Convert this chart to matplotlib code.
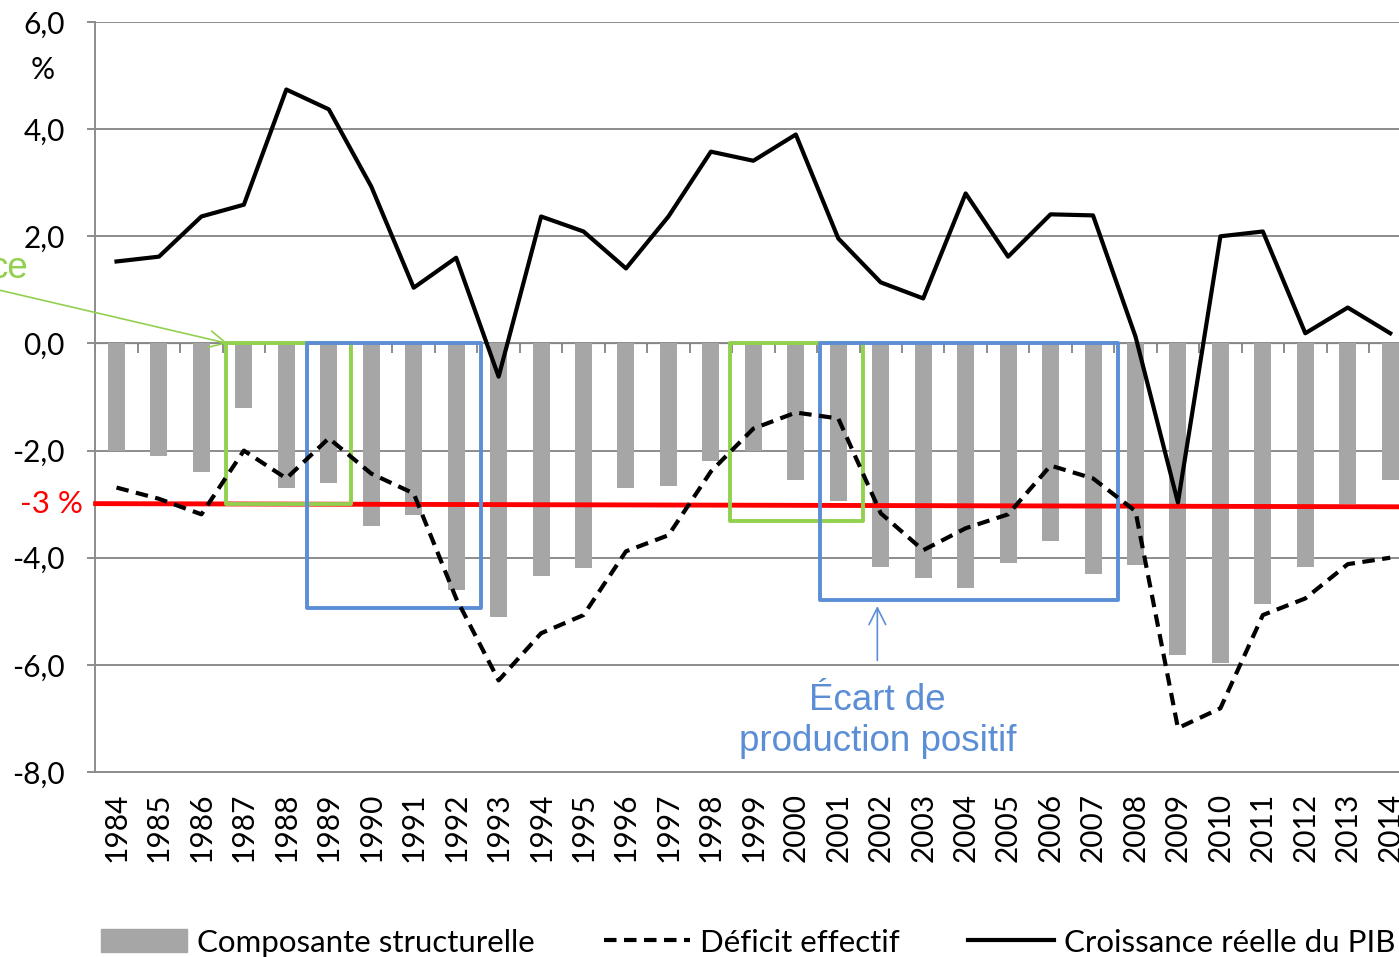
"""
Déficit effectif, composante structurelle et croissance du PIB (1984-2014)
"""

import matplotlib
matplotlib.use('Agg')
import matplotlib.pyplot as plt
from matplotlib.lines import Line2D
from matplotlib.patches import Patch, Rectangle

plt.rcParams['font.family'] = ['Lato', 'DejaVu Sans']

# données
years = [str(y) for y in range(1984, 2015)]
structurel = [-2.0, -2.1, -2.4, -1.2, -2.7, -2.6, -3.4, -3.2, -4.6, -5.1,
              -4.35, -4.2, -2.7, -2.67, -2.2, -2.0, -2.55, -2.95, -4.18, -4.38,
              -4.56, -4.1, -3.69, -4.31, -4.14, -5.82, -5.97, -4.87, -4.18, -2.99,
              -2.54]
deficit = [-2.69, -2.9, -3.19, -2.0, -2.52, -1.77, -2.43, -2.8, -4.76, -6.29,
           -5.41, -5.07, -3.88, -3.58, -2.39, -1.59, -1.29, -1.4, -3.17, -3.86,
           -3.45, -3.19, -2.28, -2.52, -3.13, -7.18, -6.81, -5.07, -4.76, -4.12,
           -4.0]
croissance = [1.53, 1.62, 2.37, 2.59, 4.74, 4.37, 2.93, 1.04, 1.6, -0.62,
              2.37, 2.09, 1.4, 2.37, 3.58, 3.41, 3.9, 1.96, 1.14, 0.84,
              2.8, 1.62, 2.41, 2.39, 0.13, -2.97, 2.0, 2.09, 0.19, 0.67,
              0.19]
y_ticks = [-8, -6, -4, -2, 0, 2, 4, 6]

# zones surlignées : (x début, x fin, y bas) en positions de catégories
green_boxes = [(2.57, 5.52, -3.0), (14.46, 17.59, -3.32)]
blue_boxes = [(4.48, 8.58, -4.94), (16.56, 23.58, -4.79)]

GRID = '#8c8c8c'
GREEN = '#92D050'
BLUE = '#5B8ED5'

fig = plt.figure(figsize=(13.99, 9.57), dpi=100)
ax = fig.add_axes([0.0681, 0.1933, 0.9408, 0.7837])
x = list(range(len(years)))

ax.bar(x, structurel, width=0.4, color='#A6A6A6', zorder=2)
ax.plot([-0.55, len(years) - 0.5], [-2.99, -3.05], color='red', lw=3.5,
        zorder=3, clip_on=False, solid_capstyle='butt')
ax.plot(x, deficit, color='black', lw=3, linestyle=(0, (3, 1.8)), zorder=5)
ax.plot(x, croissance, color='black', lw=3, zorder=5)

for x0, x1, yb in green_boxes:
    ax.add_patch(Rectangle((x0, yb), x1 - x0, -yb, fill=False, ec=GREEN,
                           lw=2.8, zorder=4, joinstyle='round'))
for x0, x1, yb in blue_boxes:
    ax.add_patch(Rectangle((x0, yb), x1 - x0, -yb, fill=False, ec=BLUE,
                           lw=2.8, zorder=4, joinstyle='round'))

ax.set_xlim(-0.5, len(years) - 0.5)
ax.set_ylim(-8, 6)
ax.set_yticks(y_ticks)
ax.set_yticklabels([f'{v:.1f}'.replace('.', ',') for v in y_ticks], fontsize=21.5)
ax.set_xticks(x)
ax.set_xticklabels(years, rotation=90, fontsize=21.5)
ax.tick_params(axis='x', length=0, pad=15)
ax.tick_params(axis='y', length=6, width=1.4, color=GRID, pad=16)
ax.grid(axis='y', color=GRID, lw=1.4, zorder=0)
ax.set_axisbelow(True)
for s in ['top', 'right']:
    ax.spines[s].set_visible(False)
for s in ['left', 'bottom']:
    ax.spines[s].set_color(GRID)
    ax.spines[s].set_linewidth(1.4)

# axe des abscisses à 0 avec graduations entre catégories
sec = ax.secondary_xaxis(8 / 14)
sec.set_xticks([i - 0.5 for i in range(len(years) + 1)])
sec.set_xticklabels([])
sec.tick_params(length=7, width=1.4, color=GRID, direction='in')
sec.spines['bottom'].set_color(GRID)
sec.spines['bottom'].set_linewidth(1.4)

ax.text(-1.73, 5.1, '%', fontsize=21.5, ha='center', va='center')
ax.text(-0.8, -3.0, '-3 %', fontsize=22.5, color='red', ha='right',
        va='center', clip_on=False)

# annotations
ax.annotate('', xy=(17.92, -4.85), xytext=(17.92, -5.97),
            arrowprops=dict(arrowstyle='->', color=BLUE, lw=1.2,
                            mutation_scale=30))
ax.text(17.92, -7.05, 'Écart de\nproduction positif', fontsize=26.5,
        family='Liberation Sans', color=BLUE, ha='center', va='center',
        linespacing=1.22)
ax.annotate('', xy=(2.62, 0.0), xytext=(-3.0, 1.04),
            arrowprops=dict(arrowstyle='->', color=GREEN, lw=1.2,
                            mutation_scale=30, shrinkA=0, shrinkB=0),
            annotation_clip=False)
fig.text(28 / 1399, 1 - 268 / 957, 'ce', fontsize=26.5, family='Liberation Sans',
         color=GREEN, ha='right', va='center')

handles = [Patch(color='#A6A6A6'),
           Line2D([], [], color='black', lw=3, linestyle=(0, (3, 1.8))),
           Line2D([], [], color='black', lw=3)]
labels = ['Composante structurelle', 'Déficit effectif', 'Croissance réelle du PIB']
fig.legend(handles, labels, loc='center', bbox_to_anchor=(0.535, 0.015),
           ncol=3, frameon=False, fontsize=22.5, handlelength=2.75,
           handleheight=0.77, handletextpad=0.32, columnspacing=2.2)

plt.savefig('out.png', dpi=100, facecolor='white')
plt.close()
